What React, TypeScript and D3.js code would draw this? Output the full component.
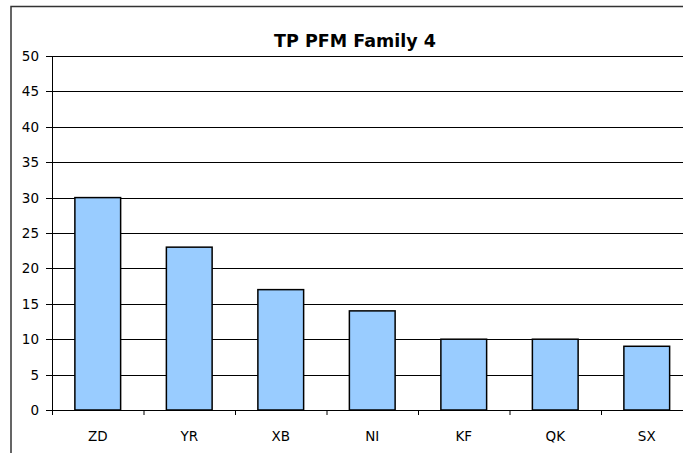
import React from "react";
import * as d3 from "d3";

const categories = ["ZD", "YR", "XB", "NI", "KF", "QK", "SX"];
const values = [30, 23, 17, 14, 10, 10, 9];
const yTicks = [0, 5, 10, 15, 20, 25, 30, 35, 40, 45, 50];
const title = "TP PFM Family 4";

export default function App() {
  const W = 683, H = 453;
  const left = 52, right = 692.5, top = 56, bottom = 410;
  const x = d3.scaleBand<string>().domain(categories).range([left, right]).paddingInner(0.5).paddingOuter(0.25);
  const xb = d3.scaleBand<string>().domain(categories).range([left, right]);
  const y = d3.scaleLinear().domain([0, 50]).range([bottom, top]);
  const font = "Verdana, 'DejaVu Sans', sans-serif";
  return (
    <svg width={W} height={H} style={{ position: "absolute", left: 0, top: 0, background: "#fff" }}>
      <rect x={11} y={6.5} width={W + 10} height={H + 10} fill="#fff" stroke="#333" strokeWidth={1.5} />
      {yTicks.map(t => (
        <g key={t}>
          <line x1={left} x2={W} y1={Math.round(y(t)) + 0.5} y2={Math.round(y(t)) + 0.5} stroke="#000" strokeWidth={1} />
          <line x1={left - 6} x2={left} y1={Math.round(y(t)) + 0.5} y2={Math.round(y(t)) + 0.5} stroke="#000" />
          <text x={39} y={y(t) + 5} textAnchor="end" fontFamily={font} fontSize={13.5} fill="#000">{t}</text>
        </g>
      ))}
      <line x1={left + 0.5} x2={left + 0.5} y1={top} y2={bottom} stroke="#000" />
      {categories.map((c, i) => (
        <rect key={c} x={x(c)} y={y(values[i])} width={x.bandwidth()} height={bottom - y(values[i])}
          fill="#99CCFF" stroke="#000" strokeWidth={1.5} />
      ))}
      {categories.map(c => (
        <g key={c}>
          <line x1={xb(c)! + 0.5} x2={xb(c)! + 0.5} y1={bottom} y2={bottom + 5} stroke="#000" />
          <text x={xb(c)! + xb.bandwidth() / 2} y={441} textAnchor="middle" fontFamily={font} fontSize={13.5} fill="#000">{c}</text>
        </g>
      ))}
      <text x={355} y={47} textAnchor="middle" fontFamily={font} fontSize={17.5} fontWeight="bold" fill="#000">{title}</text>
    </svg>
  );
}
